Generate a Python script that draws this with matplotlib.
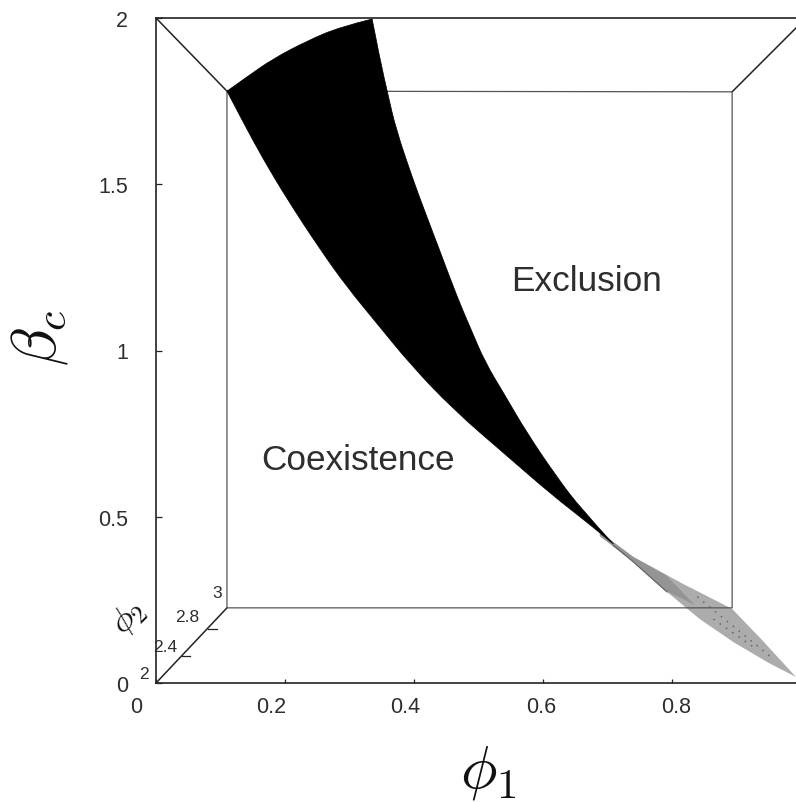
import matplotlib
matplotlib.use("Agg")
import matplotlib.pyplot as plt
from matplotlib.path import Path
from matplotlib.patches import PathPatch
from matplotlib.transforms import ScaledTranslation

plt.rcParams['font.family'] = ['Liberation Sans', 'DejaVu Sans']
plt.rcParams['mathtext.fontset'] = 'cm'

# Data: edges of the black region (phi1, beta_c)
top_phi1 = [.110, .141, .181, .234, .285, .335]
top_beta = [1.780, 1.823, 1.877, 1.931, 1.973, 1.997]
right_phi1 = [.335, .347, .360, .372, .398, .417, .437, .468, .488, .510, .541, .574, .620, .659, .709]
right_beta = [1.997, 1.877, 1.766, 1.666, 1.516, 1.417, 1.315, 1.155, 1.065, .965, .865, .755, .623, .523, .418]
left_phi1 = [.709, .668, .616, .544, .460, .394, .343, .296, .254, .203, .166, .135, .110]
left_beta = [.418, .484, .562, .683, .824, .959, 1.080, 1.191, 1.305, 1.456, 1.576, 1.687, 1.780]

gray_phi1 = [.688, .740, .817, .893, .940, .992, .950, .895, .843, .792, .740, .688]
gray_beta = [.454, .379, .298, .223, .128, .018, .060, .123, .192, .274, .364, .442]
dark_phi1 = [.688, .740, .790, .835, .790, .740, .688]
dark_beta = [.454, .379, .325, .235, .277, .364, .442]
edge_phi1 = [.709, .740, .792]
edge_beta = [.414, .364, .274]
dots_a_phi1 = [.839, .957]
dots_a_beta = [.259, .072]
dots_b_phi1 = [.864, .926]
dots_b_beta = [.192, .108]

# Perspective box (phi1, beta_c)
inner_phi1 = [.110, .893, .893, .110, .110]
inner_beta = [1.780, 1.778, .226, .226, 1.780]
diagonals = [([0, .110], [2.0, 1.780]),
             ([.893, .992], [1.778, 1.970]),
             ([0, .110], [0, .226])]
depth_ticks = [([.040, .052], [.081, .081]), ([.081, .094], [.162, .162])]

x_ticks = [0, .2, .4, .6, .8]
x_labels = ['0', '0.2', '0.4', '0.6', '0.8']
x_label_shift = [-20, -14, -9, -2, 4]
y_ticks = [0, .5, 1, 1.5, 2]
y_labels = ['0', '0.5', '1', '1.5', '2']

depth_labels = ['2', '2.4', '2.8', '3']
depth_phi1 = [-.019, .014, .048, .095]
depth_beta = [.030, .111, .201, .271]


def smooth_edge(xs, ys, path_v, path_c, first):
    """Append one edge as a quadratic B-spline, using the read values as control points."""
    pts = list(zip(xs, ys))
    if first:
        path_v.append(pts[0])
        path_c.append(Path.MOVETO)
    for i in range(1, len(pts) - 1):
        end = pts[i + 1] if i == len(pts) - 2 else ((pts[i][0] + pts[i + 1][0]) / 2,
                                                    (pts[i][1] + pts[i + 1][1]) / 2)
        path_v.extend([pts[i], end])
        path_c.extend([Path.CURVE3, Path.CURVE3])


W, H = 796, 803
fig = plt.figure(figsize=(W / 100, H / 100), dpi=100)
ax = fig.add_axes([156 / W, (H - 684) / H, (W - 156) / W, 665 / H])
ax.set_xlim(0, .992)
ax.set_ylim(0, 2)

ink = '#2e2e2e'
for dx, dy in diagonals:
    ax.plot(dx, dy, color='#222222', lw=1.1, zorder=0.5, clip_on=False)

ax.fill(gray_phi1, gray_beta, color='#acacac', lw=0, zorder=1)
ax.fill(dark_phi1, dark_beta, color='#949494', lw=0, zorder=1.1)
ax.plot(edge_phi1, edge_beta, color='#666666', lw=0.9, zorder=1.5)
ax.plot(dots_a_phi1, dots_a_beta, color='#666666', lw=1.1, ls=(0, (1, 4)), zorder=1.5)
ax.plot(dots_b_phi1, dots_b_beta, color='#666666', lw=1.1, ls=(0, (1, 4)), zorder=1.5)

ax.plot(inner_phi1, inner_beta, color='#555555', lw=0.9, zorder=2)
for dx, dy in depth_ticks:
    ax.plot(dx, dy, color='#222222', lw=0.9, zorder=2)

verts, codes = [], []
smooth_edge(top_phi1, top_beta, verts, codes, True)
smooth_edge(right_phi1, right_beta, verts, codes, False)
smooth_edge(left_phi1, left_beta, verts, codes, False)
ax.add_patch(PathPatch(Path(verts, codes), facecolor='black', edgecolor='black', lw=0.5, zorder=3))

ax.spines['right'].set_visible(False)
for side in ['left', 'top', 'bottom']:
    ax.spines[side].set_linewidth(1.2)
    ax.spines[side].set_color('#222222')

ax.set_xticks(x_ticks, x_labels)
ax.set_yticks(y_ticks, y_labels)
ax.tick_params(axis='x', direction='in', length=3, width=0.9, pad=9.5, labelsize=15.5,
               labelcolor=ink, color='#222222')
ax.tick_params(axis='y', direction='in', length=4, width=0.9, pad=20, labelsize=15.5,
               labelcolor=ink, color='#222222')
for lab, shift in zip(ax.get_xticklabels(), x_label_shift):
    lab.set_transform(lab.get_transform() + ScaledTranslation(shift / 100, 0, fig.dpi_scale_trans))

ax.text(.668, 1.212, 'Exclusion', fontsize=25.3, color=ink, ha='center', va='center')
ax.text(.313, .672, 'Coexistence', fontsize=25.3, color=ink, ha='center', va='center')

for t, px, py in zip(depth_labels, depth_phi1, depth_beta):
    ax.text(px, py, t, fontsize=12.5, color=ink, ha='center', va='center', clip_on=False)

ax.set_xlabel(r'$\phi_1$', fontsize=44, color='#111111', va='center', ha='center')
ax.xaxis.set_label_coords(.515, -.268, transform=ax.transData)
ax.set_ylabel(r'$\beta_c$', fontsize=45, color='#111111', rotation=90, va='center', ha='center')
ax.yaxis.set_label_coords(-.180, 1.04, transform=ax.transData)
ax.text(-.042, .2, r'$\phi_2$', fontsize=25, color='#111111', rotation=45,
        ha='center', va='center', rotation_mode='anchor', clip_on=False)

fig.savefig('out.png', dpi=100)
